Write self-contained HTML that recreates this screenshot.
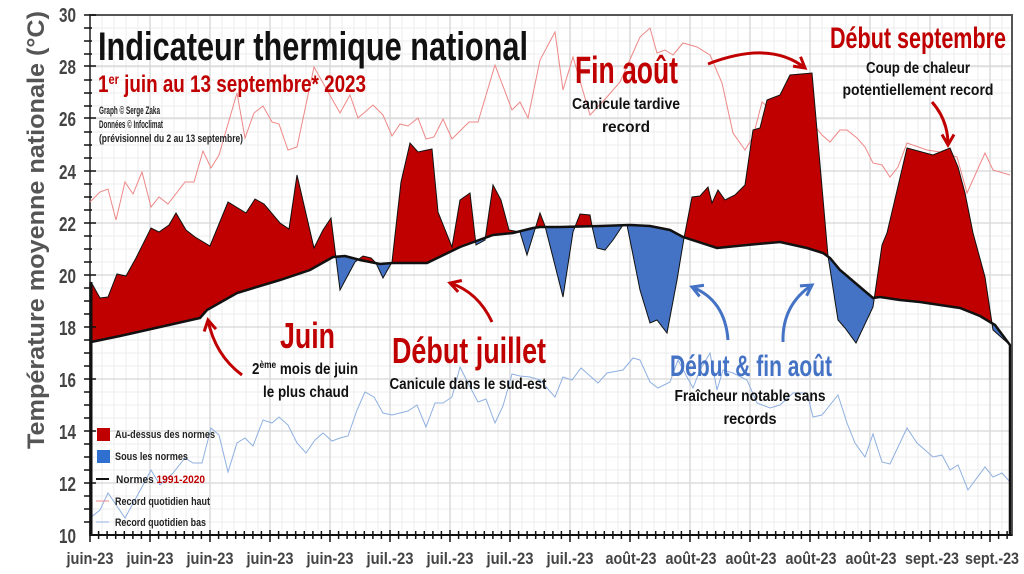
<!DOCTYPE html>
<html><head><meta charset="utf-8"><style>
html,body{margin:0;padding:0;background:#fff;}
svg{display:block;font-family:"Liberation Sans Narrow","Liberation Sans",sans-serif;font-weight:bold;}
</style></head><body>
<svg width="1024" height="574" viewBox="0 0 1024 574" xmlns="http://www.w3.org/2000/svg">
<defs>
<clipPath id="above"><polygon points="0,0 1024,0 1024,345 1010,345 995,325 980,316 960,308 940,305 920,302 900,300 880,297 873,298 860,287 840,270 830,258 823,253 807,248 780,242 747,245 717,248 683,237 670,230 650,226 630,225 600,226 560,227 540,227 533,228 513,233 493,235 460,247 427,263 393,263 380,264 360,260 345,256 333,257 310,270 280,280 237,293 207,310 200,318 160,327 120,336 91,342 0,342"/></clipPath>
<clipPath id="below"><polygon points="0,574 1024,574 1024,345 1010,345 995,325 980,316 960,308 940,305 920,302 900,300 880,297 873,298 860,287 840,270 830,258 823,253 807,248 780,242 747,245 717,248 683,237 670,230 650,226 630,225 600,226 560,227 540,227 533,228 513,233 493,235 460,247 427,263 393,263 380,264 360,260 345,256 333,257 310,270 280,280 237,293 207,310 200,318 160,327 120,336 91,342 0,342"/></clipPath>
<marker id="ar" viewBox="0 0 10 10" refX="8" refY="5" markerWidth="5" markerHeight="5" orient="auto"><path d="M1,1 L8,5 L1,9" fill="none" stroke="#c00000" stroke-width="2"/></marker>
<marker id="ab" viewBox="0 0 10 10" refX="8" refY="5" markerWidth="5" markerHeight="5" orient="auto"><path d="M1,1 L8,5 L1,9" fill="none" stroke="#4472c4" stroke-width="2"/></marker>
</defs>
<g stroke="#ececec" stroke-width="1">
<path d="M90,28H1012M90,41H1012M90,54H1012M90,67H1012M90,80H1012M90,93H1012M90,106H1012M90,119H1012M90,132H1012M90,145H1012M90,158H1012M90,171H1012M90,184H1012M90,197H1012M90,210H1012M90,223H1012M90,236H1012M90,249H1012M90,262H1012M90,275H1012M90,288H1012M90,301H1012M90,314H1012M90,327H1012M90,340H1012M90,353H1012M90,366H1012M90,379H1012M90,392H1012M90,405H1012M90,418H1012M90,431H1012M90,444H1012M90,457H1012M90,470H1012M90,483H1012M90,496H1012M90,509H1012M90,522H1012"/>
<path d="M102,15V535M114,15V535M126,15V535M138,15V535M162,15V535M174,15V535M186,15V535M198,15V535M222,15V535M234,15V535M246,15V535M258,15V535M282,15V535M294,15V535M306,15V535M318,15V535M342,15V535M354,15V535M366,15V535M378,15V535M402,15V535M414,15V535M426,15V535M438,15V535M462,15V535M474,15V535M486,15V535M498,15V535M522,15V535M534,15V535M546,15V535M558,15V535M582,15V535M594,15V535M606,15V535M618,15V535M642,15V535M654,15V535M666,15V535M678,15V535M702,15V535M714,15V535M726,15V535M738,15V535M762,15V535M774,15V535M786,15V535M798,15V535M822,15V535M834,15V535M846,15V535M858,15V535M882,15V535M894,15V535M906,15V535M918,15V535M942,15V535M954,15V535M966,15V535M978,15V535M1002,15V535"/>
</g>
<g stroke="#d6d6d6" stroke-width="1.3">
<path d="M90,66H1012M90,118H1012M90,171H1012M90,223H1012M90,275H1012M90,327H1012M90,379H1012M90,431H1012M90,483H1012"/>
<path d="M150,15V535M210,15V535M270,15V535M330,15V535M390,15V535M450,15V535M510,15V535M570,15V535M630,15V535M690,15V535M750,15V535M810,15V535M870,15V535M930,15V535M990,15V535"/>
</g>
<rect x="90" y="15" width="922" height="520" fill="none" stroke="#555" stroke-width="2"/>
<polyline fill="none" stroke="#e88" stroke-width="1" points="90,202 100,192 108,189 116,220 125,182 133,194 142,172 151,207 159,197 168,204 185,182 194,182 203,151 211,168 219,155 237,93 245,138 254,113 263,106 272,122 279,124 288,150 297,147 314,67 340,113 350,95 358,118 373,105 383,115 392,136 400,124 408,126 418,118 426,139 434,137 443,119 452,139 469,122 478,122 495,65 512,110 520,102 528,118 540,60 555,32 563,90 573,57 590,115 607,97 620,82 632,55 640,37 650,28 657,53 665,50 673,55 683,43 697,47 710,55 722,83 733,133 745,150 753,137 762,102 780,117 810,120 822,135 830,142 840,130 847,130 857,138 865,147 873,163 882,165 890,177 898,167 907,143 927,150 940,152 957,157 967,193 985,153 993,170 1010,175"/>
<polyline fill="none" stroke="#8fb0e0" stroke-width="1" points="90,518 100,510 108,493 125,518 142,487 151,470 160,485 173,473 185,458 193,463 202,463 211,428 219,435 228,472 237,443 245,438 253,446 263,420 272,423 279,417 288,425 297,443 306,453 315,440 323,433 332,441 340,438 348,436 357,410 365,392 374,397 383,413 392,415 400,413 408,411 417,405 426,427 435,403 443,403 452,397 460,367 469,385 478,402 486,399 495,423 503,406 512,374 520,376 530,377 540,380 555,397 563,377 572,380 581,368 598,383 607,373 623,370 633,358 640,360 650,382 658,388 670,382 678,360 687,377 693,388 700,370 710,353 717,390 723,370 733,373 747,380 757,403 770,408 780,405 793,393 807,393 813,417 822,415 838,395 847,423 855,443 865,457 873,434 882,462 890,464 907,428 917,443 933,457 942,455 950,470 958,465 968,490 985,467 993,477 1002,473 1010,482"/>
<polygon points="91,282 100,298 108,297 117,274 126,276 136,258 151,228 159,232 169,225 176,213 186,230 195,237 210,246 228,202 246,213 255,199 264,204 280,223 289,229 297,175 314,248 323,230 331,218 340,290 355,262 363,256 371,258 376,263 383,278 392,262 401,182 410,143 418,152 432,149 438,212 452,247 460,200 470,193 476,245 485,240 493,185 501,200 509,230 520,232 527,255 540,213 545,226 563,297 573,232 580,214 590,215 592,226 597,248 605,250 613,240 623,225 627,225 640,290 650,323 657,320 667,333 677,280 684,238 692,197 700,196 708,187 712,203 718,190 725,200 735,195 745,185 753,130 760,128 767,100 780,95 790,75 812,73 828,256 838,320 845,328 856,343 873,307 882,245 887,233 907,148 933,155 950,148 958,167 965,193 973,233 985,277 993,330 1010,345 1010,345 995,325 980,316 960,308 940,305 920,302 900,300 880,297 873,298 860,287 840,270 830,258 823,253 807,248 780,242 747,245 717,248 683,237 670,230 650,226 630,225 600,226 560,227 540,227 533,228 513,233 493,235 460,247 427,263 393,263 380,264 360,260 345,256 333,257 310,270 280,280 237,293 207,310 200,318 160,327 120,336 91,342" fill="#c00000" clip-path="url(#above)"/>
<polygon points="91,282 100,298 108,297 117,274 126,276 136,258 151,228 159,232 169,225 176,213 186,230 195,237 210,246 228,202 246,213 255,199 264,204 280,223 289,229 297,175 314,248 323,230 331,218 340,290 355,262 363,256 371,258 376,263 383,278 392,262 401,182 410,143 418,152 432,149 438,212 452,247 460,200 470,193 476,245 485,240 493,185 501,200 509,230 520,232 527,255 540,213 545,226 563,297 573,232 580,214 590,215 592,226 597,248 605,250 613,240 623,225 627,225 640,290 650,323 657,320 667,333 677,280 684,238 692,197 700,196 708,187 712,203 718,190 725,200 735,195 745,185 753,130 760,128 767,100 780,95 790,75 812,73 828,256 838,320 845,328 856,343 873,307 882,245 887,233 907,148 933,155 950,148 958,167 965,193 973,233 985,277 993,330 1010,345 1010,345 995,325 980,316 960,308 940,305 920,302 900,300 880,297 873,298 860,287 840,270 830,258 823,253 807,248 780,242 747,245 717,248 683,237 670,230 650,226 630,225 600,226 560,227 540,227 533,228 513,233 493,235 460,247 427,263 393,263 380,264 360,260 345,256 333,257 310,270 280,280 237,293 207,310 200,318 160,327 120,336 91,342" fill="#4472c4" clip-path="url(#below)"/>
<polyline fill="none" stroke="#111" stroke-width="1" points="91,282 100,298 108,297 117,274 126,276 136,258 151,228 159,232 169,225 176,213 186,230 195,237 210,246 228,202 246,213 255,199 264,204 280,223 289,229 297,175 314,248 323,230 331,218 340,290 355,262 363,256 371,258 376,263 383,278 392,262 401,182 410,143 418,152 432,149 438,212 452,247 460,200 470,193 476,245 485,240 493,185 501,200 509,230 520,232 527,255 540,213 545,226 563,297 573,232 580,214 590,215 592,226 597,248 605,250 613,240 623,225 627,225 640,290 650,323 657,320 667,333 677,280 684,238 692,197 700,196 708,187 712,203 718,190 725,200 735,195 745,185 753,130 760,128 767,100 780,95 790,75 812,73 828,256 838,320 845,328 856,343 873,307 882,245 887,233 907,148 933,155 950,148 958,167 965,193 973,233 985,277 993,330 1010,345"/>
<polyline fill="none" stroke="#111" stroke-width="2.5" points="91,342 120,336 160,327 200,318 207,310 237,293 280,280 310,270 333,257 345,256 360,260 380,264 393,263 427,263 460,247 493,235 513,233 533,228 540,227 560,227 600,226 630,225 650,226 670,230 683,237 717,248 747,245 780,242 807,248 823,253 830,258 840,270 860,287 873,298 880,297 900,300 920,302 940,305 960,308 980,316 995,325 1010,345 1010,535"/>
<line x1="91" y1="282" x2="91" y2="535" stroke="#111" stroke-width="3"/>
<line x1="90" y1="535" x2="1012" y2="535" stroke="#111" stroke-width="2"/>
<path stroke="#111" stroke-width="1.5" d="M84,15H96M84,28H92M84,41H92M84,54H92M84,66H96M84,80H92M84,93H92M84,106H92M84,118H96M84,132H92M84,145H92M84,158H92M84,171H96M84,184H92M84,197H92M84,210H92M84,223H96M84,236H92M84,249H92M84,262H92M84,275H96M84,288H92M84,301H92M84,314H92M84,327H96M84,340H92M84,353H92M84,366H92M84,379H96M84,392H92M84,405H92M84,418H92M84,431H96M84,444H92M84,457H92M84,470H92M84,483H96M84,496H92M84,509H92M84,522H92"/>
<path stroke="#111" stroke-width="1.5" d="M90,530V542M98.6,531V539M107.1,531V539M115.7,531V539M124.3,531V539M132.9,531V539M141.4,531V539M150,530V542M158.6,531V539M167.1,531V539M175.7,531V539M184.3,531V539M192.9,531V539M201.4,531V539M210,530V542M218.6,531V539M227.1,531V539M235.7,531V539M244.3,531V539M252.9,531V539M261.4,531V539M270,530V542M278.6,531V539M287.1,531V539M295.7,531V539M304.3,531V539M312.9,531V539M321.4,531V539M330,530V542M338.6,531V539M347.1,531V539M355.7,531V539M364.3,531V539M372.9,531V539M381.4,531V539M390,530V542M398.6,531V539M407.1,531V539M415.7,531V539M424.3,531V539M432.9,531V539M441.4,531V539M450,530V542M458.6,531V539M467.1,531V539M475.7,531V539M484.3,531V539M492.9,531V539M501.4,531V539M510,530V542M518.6,531V539M527.1,531V539M535.7,531V539M544.3,531V539M552.9,531V539M561.4,531V539M570,530V542M578.6,531V539M587.1,531V539M595.7,531V539M604.3,531V539M612.9,531V539M621.4,531V539M630,530V542M638.6,531V539M647.1,531V539M655.7,531V539M664.3,531V539M672.9,531V539M681.4,531V539M690,530V542M698.6,531V539M707.1,531V539M715.7,531V539M724.3,531V539M732.9,531V539M741.4,531V539M750,530V542M758.6,531V539M767.1,531V539M775.7,531V539M784.3,531V539M792.9,531V539M801.4,531V539M810,530V542M818.6,531V539M827.1,531V539M835.7,531V539M844.3,531V539M852.9,531V539M861.4,531V539M870,530V542M878.6,531V539M887.1,531V539M895.7,531V539M904.3,531V539M912.9,531V539M921.4,531V539M930,530V542M938.6,531V539M947.1,531V539M955.7,531V539M964.3,531V539M972.9,531V539M981.4,531V539M990,530V542M998.6,531V539M1007.1,531V539"/>
<g fill="#444" font-size="20" text-anchor="end">
<text x="76" y="22" textLength="17" lengthAdjust="spacingAndGlyphs">30</text><text x="76" y="74" textLength="17" lengthAdjust="spacingAndGlyphs">28</text><text x="76" y="126" textLength="17" lengthAdjust="spacingAndGlyphs">26</text><text x="76" y="179" textLength="17" lengthAdjust="spacingAndGlyphs">24</text><text x="76" y="231" textLength="17" lengthAdjust="spacingAndGlyphs">22</text><text x="76" y="283" textLength="17" lengthAdjust="spacingAndGlyphs">20</text><text x="76" y="335" textLength="17" lengthAdjust="spacingAndGlyphs">18</text><text x="76" y="387" textLength="17" lengthAdjust="spacingAndGlyphs">16</text><text x="76" y="439" textLength="17" lengthAdjust="spacingAndGlyphs">14</text><text x="76" y="491" textLength="17" lengthAdjust="spacingAndGlyphs">12</text><text x="76" y="543" textLength="17" lengthAdjust="spacingAndGlyphs">10</text>
</g>
<g fill="#444" font-size="17" text-anchor="middle">
<text x="90" y="564" textLength="47" lengthAdjust="spacingAndGlyphs">juin-23</text><text x="150" y="564" textLength="47" lengthAdjust="spacingAndGlyphs">juin-23</text><text x="210" y="564" textLength="47" lengthAdjust="spacingAndGlyphs">juin-23</text><text x="270" y="564" textLength="47" lengthAdjust="spacingAndGlyphs">juin-23</text><text x="330" y="564" textLength="47" lengthAdjust="spacingAndGlyphs">juin-23</text><text x="390" y="564" textLength="47" lengthAdjust="spacingAndGlyphs">juil.-23</text><text x="450" y="564" textLength="47" lengthAdjust="spacingAndGlyphs">juil.-23</text><text x="510" y="564" textLength="47" lengthAdjust="spacingAndGlyphs">juil.-23</text><text x="570" y="564" textLength="47" lengthAdjust="spacingAndGlyphs">juil.-23</text><text x="631" y="564" textLength="51" lengthAdjust="spacingAndGlyphs">août-23</text><text x="691" y="564" textLength="51" lengthAdjust="spacingAndGlyphs">août-23</text><text x="751" y="564" textLength="51" lengthAdjust="spacingAndGlyphs">août-23</text><text x="811" y="564" textLength="51" lengthAdjust="spacingAndGlyphs">août-23</text><text x="871" y="564" textLength="51" lengthAdjust="spacingAndGlyphs">août-23</text><text x="932" y="564" textLength="54" lengthAdjust="spacingAndGlyphs">sept.-23</text><text x="992" y="564" textLength="54" lengthAdjust="spacingAndGlyphs">sept.-23</text>
</g>
<text transform="translate(44,230) rotate(-90)" text-anchor="middle" font-size="24" fill="#555" textLength="438" lengthAdjust="spacingAndGlyphs">Température moyenne nationale (°C)</text>
<text x="98" y="60" font-size="40" fill="#111" textLength="430" lengthAdjust="spacingAndGlyphs">Indicateur thermique national</text>
<text x="98" y="92" font-size="24" fill="#c00000" textLength="268" lengthAdjust="spacingAndGlyphs">1<tspan font-size="14" dy="-8">er</tspan><tspan dy="8"> juin au 13 septembre* 2023</tspan></text>
<g font-size="11" fill="#222">
<text x="99" y="114" textLength="61" lengthAdjust="spacingAndGlyphs">Graph © Serge Zaka</text><text x="99" y="128" textLength="64" lengthAdjust="spacingAndGlyphs">Données © Infoclimat</text><text x="99" y="142" textLength="144" lengthAdjust="spacingAndGlyphs">(prévisionnel du 2 au 13 septembre)</text>
</g>
<text x="575" y="83" font-size="38" fill="#c00000" textLength="103" lengthAdjust="spacingAndGlyphs">Fin août</text>
<g font-size="16" fill="#111" text-anchor="middle"><text x="626" y="109" textLength="108" lengthAdjust="spacingAndGlyphs">Canicule tardive</text><text x="626" y="132" textLength="48" lengthAdjust="spacingAndGlyphs">record</text></g>
<text x="830" y="48" font-size="30" fill="#c00000" textLength="176" lengthAdjust="spacingAndGlyphs">Début septembre</text>
<g font-size="16" fill="#111" text-anchor="middle"><text x="918" y="73" textLength="104" lengthAdjust="spacingAndGlyphs">Coup de chaleur</text><text x="918" y="95" textLength="151" lengthAdjust="spacingAndGlyphs">potentiellement record</text></g>
<text x="280" y="348" font-size="36" fill="#c00000" textLength="55" lengthAdjust="spacingAndGlyphs">Juin</text>
<g font-size="16" fill="#111"><text x="252" y="374" textLength="106" lengthAdjust="spacingAndGlyphs">2<tspan font-size="10" dy="-6">ème</tspan><tspan dy="6"> mois de juin</tspan></text><text x="306" y="397" text-anchor="middle" textLength="86" lengthAdjust="spacingAndGlyphs">le plus chaud</text></g>
<text x="392" y="363" font-size="36" fill="#c00000" textLength="154" lengthAdjust="spacingAndGlyphs">Début juillet</text>
<text x="468" y="389" font-size="16" fill="#111" text-anchor="middle" textLength="157" lengthAdjust="spacingAndGlyphs">Canicule dans le sud-est</text>
<text x="670" y="376" font-size="30" fill="#4472c4" textLength="162" lengthAdjust="spacingAndGlyphs">Début &amp; fin août</text>
<g font-size="16" fill="#111" text-anchor="middle"><text x="750" y="401" textLength="151" lengthAdjust="spacingAndGlyphs">Fraîcheur notable sans</text><text x="750" y="424" textLength="53" lengthAdjust="spacingAndGlyphs">records</text></g>
<g fill="none" stroke="#c00000" stroke-width="3">
<path d="M242,375 Q215,355 208,320" marker-end="url(#ar)"/>
<path d="M492,322 Q478,292 450,283" marker-end="url(#ar)"/>
<path d="M708,64 Q770,40 805,68" marker-end="url(#ar)"/>
<path d="M932,102 Q948,120 948,145" marker-end="url(#ar)"/>
</g>
<g fill="none" stroke="#4472c4" stroke-width="3">
<path d="M728,340 Q725,300 692,287" marker-end="url(#ab)"/>
<path d="M783,342 Q782,305 812,285" marker-end="url(#ab)"/>
</g>
<rect x="97" y="428" width="13" height="13" fill="#c00000"/>
<rect x="97" y="450" width="13" height="13" fill="#2f6fd0"/>
<line x1="96" y1="479" x2="109" y2="479" stroke="#111" stroke-width="2"/>
<line x1="96" y1="501" x2="109" y2="501" stroke="#e88" stroke-width="1"/>
<line x1="96" y1="522" x2="109" y2="522" stroke="#8fb0e0" stroke-width="1"/>
<g font-size="11" fill="#222">
<text x="115" y="438" textLength="100" lengthAdjust="spacingAndGlyphs">Au-dessus des normes</text><text x="115" y="460" textLength="73" lengthAdjust="spacingAndGlyphs">Sous les normes</text><text x="116" y="483" textLength="89" lengthAdjust="spacingAndGlyphs">Normes <tspan fill="#c00000">1991-2020</tspan></text><text x="115" y="505" textLength="95" lengthAdjust="spacingAndGlyphs">Record quotidien haut</text><text x="115" y="526" textLength="91" lengthAdjust="spacingAndGlyphs">Record quotidien bas</text>
</g>
</svg>
</body></html>
